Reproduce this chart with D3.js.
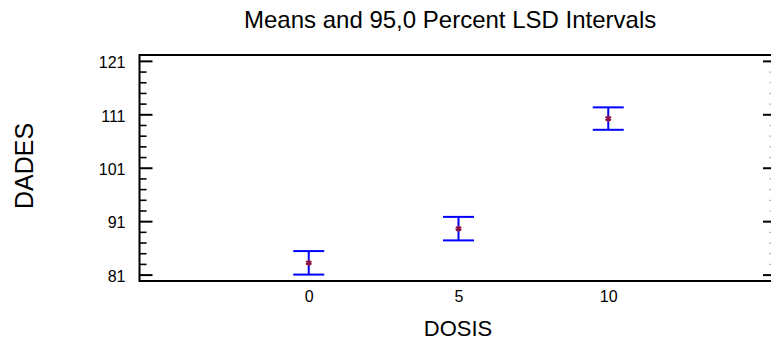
<!DOCTYPE html>
<html>
<head>
<meta charset="utf-8">
<script src="https://cdn.jsdelivr.net/npm/d3@7"></script>
<style>
  html, body { margin: 0; padding: 0; background: #fff; }
  svg { display: block; font-family: "Liberation Sans", Arial, sans-serif; }
</style>
</head>
<body>
<svg id="chart" width="771" height="345"></svg>
<script>
// Dose levels and LSD interval summaries for DADES
const doses = [0, 5, 10];
const doseLabels = ["0", "5", "10"];
const means = [83.2, 89.6, 110.2];
const lowerLimits = [81.0, 87.4, 108.1];
const upperLimits = [85.4, 91.8, 112.3];
const yMajorTicks = [81, 91, 101, 111, 121];
const yMinorTicks = [83, 85, 87, 89, 93, 95, 97, 99, 103, 105, 107, 109, 113, 115, 117, 119];

const svg = d3.select("#chart");

const plot = { left: 139.5, right: 776, top: 55, bottom: 281 };

const x = d3.scaleLinear().domain([-5.65, 15.6]).range([plot.left, plot.right]);
const y = d3.scaleLinear().domain([79.8, 122.1]).range([plot.bottom, plot.top]);

const fontFamily = "Liberation Sans, Arial, sans-serif";

// Left axis: major ticks with labels, pointing into the plot
const leftMajor = svg.append("g")
  .attr("transform", `translate(${plot.left},0)`)
  .call(d3.axisLeft(y).tickValues(yMajorTicks).tickFormat(d3.format("d"))
    .tickSizeInner(-13).tickSizeOuter(0).tickPadding(14));
leftMajor.select(".domain").remove();
leftMajor.selectAll("line").attr("stroke", "#000").attr("stroke-width", 2);
leftMajor.selectAll("text").attr("font-size", 16).attr("dy", "0.42em")
  .attr("fill", "#000").attr("font-family", fontFamily);

const leftMinor = svg.append("g")
  .attr("transform", `translate(${plot.left},0)`)
  .call(d3.axisLeft(y).tickValues(yMinorTicks).tickFormat("").tickSizeInner(-7).tickSizeOuter(0));
leftMinor.select(".domain").remove();
leftMinor.selectAll("line").attr("stroke", "#000").attr("stroke-width", 1.6);

// Right axis mirrors the left one
const rightMajor = svg.append("g")
  .attr("transform", `translate(${plot.right},0)`)
  .call(d3.axisRight(y).tickValues(yMajorTicks).tickFormat("").tickSizeInner(-13).tickSizeOuter(0));
rightMajor.select(".domain").remove();
rightMajor.selectAll("line").attr("stroke", "#000").attr("stroke-width", 2);

const rightMinor = svg.append("g")
  .attr("transform", `translate(${plot.right},0)`)
  .call(d3.axisRight(y).tickValues(yMinorTicks).tickFormat("").tickSizeInner(-7).tickSizeOuter(0));
rightMinor.select(".domain").remove();
rightMinor.selectAll("line").attr("stroke", "#bbb").attr("stroke-width", 1.2);

// Bottom axis: labels only
const bottom = svg.append("g")
  .attr("transform", `translate(0,${plot.bottom})`)
  .call(d3.axisBottom(x).tickValues(doses).tickFormat((d, i) => doseLabels[i])
    .tickSize(0).tickPadding(10));
bottom.select(".domain").remove();
bottom.selectAll("text").attr("font-size", 16).attr("fill", "#000")
  .attr("font-family", fontFamily);

// Plot frame
svg.append("rect")
  .attr("x", plot.left).attr("y", plot.top)
  .attr("width", plot.right - plot.left).attr("height", plot.bottom - plot.top)
  .attr("fill", "none").attr("stroke", "#000").attr("stroke-width", 2);

// LSD interval bars
const capHalf = 15.5;
const bars = svg.append("g").attr("stroke", "#0000ff").attr("stroke-width", 2);
doses.forEach((d, i) => {
  const cx = x(d);
  bars.append("line").attr("x1", cx).attr("x2", cx)
    .attr("y1", y(lowerLimits[i])).attr("y2", y(upperLimits[i]));
  bars.append("line").attr("x1", cx - capHalf).attr("x2", cx + capHalf)
    .attr("y1", y(upperLimits[i])).attr("y2", y(upperLimits[i]));
  bars.append("line").attr("x1", cx - capHalf).attr("x2", cx + capHalf)
    .attr("y1", y(lowerLimits[i])).attr("y2", y(lowerLimits[i]));
});

// Group means
svg.append("g").selectAll("path")
  .data(doses)
  .join("path")
  .attr("transform", (d, i) => `translate(${x(d)},${y(means[i])})`)
  .attr("d", d3.symbol(d3.symbolAsterisk, 28))
  .attr("fill", "none")
  .attr("stroke", "#8b1048")
  .attr("stroke-width", 2);

// Titles
svg.append("text")
  .attr("x", 244).attr("y", 28)
  .attr("text-anchor", "start")
  .attr("font-size", 24)
  .attr("fill", "#000")
  .text("Means and 95,0 Percent LSD Intervals");

svg.append("text")
  .attr("x", 458).attr("y", 336)
  .attr("text-anchor", "middle")
  .attr("font-size", 22)
  .attr("fill", "#000")
  .text("DOSIS");

svg.append("text")
  .attr("transform", "translate(33,166) rotate(-90)")
  .attr("text-anchor", "middle")
  .attr("font-size", 25)
  .attr("fill", "#000")
  .text("DADES");
</script>
</body>
</html>
